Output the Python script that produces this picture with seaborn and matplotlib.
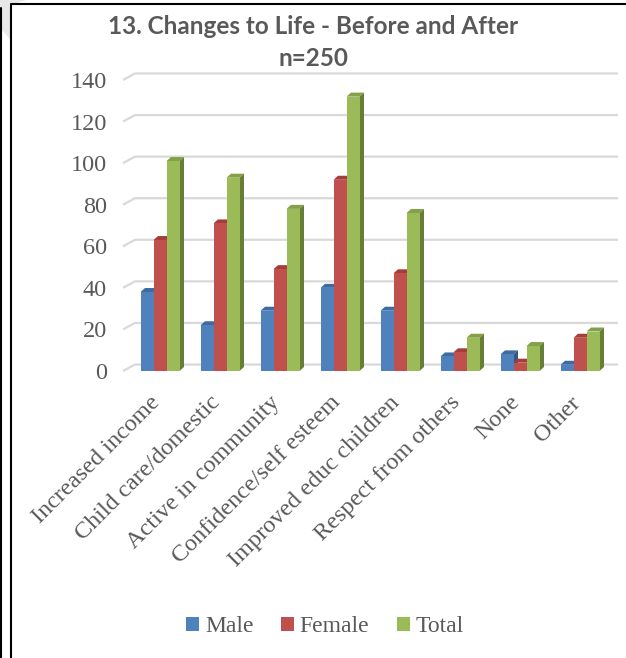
import numpy as np
import pandas as pd
import matplotlib
matplotlib.use("Agg")
import matplotlib.pyplot as plt
import seaborn as sns
from matplotlib.patches import Polygon, Patch
from matplotlib.lines import Line2D
from matplotlib import transforms

# ---------------- data ----------------
categories = ["Increased income", "Child care/domestic", "Active in community",
              "Confidence/self esteem", "Improved educ children",
              "Respect from others", "None", "Other"]
male = [38, 22, 29, 40, 29, 7, 8, 3]
female = [63, 71, 49, 92, 47, 9, 4, 16]
total = [101, 93, 78, 132, 76, 16, 12, 19]
series_names = ["Male", "Female", "Total"]
y_ticks = [0, 20, 40, 60, 80, 100, 120, 140]
title_text = "13. Changes to Life - Before and After"
subtitle_text = "n=250"

# ---------------- styles ----------------
front_colors = {"Male": "#4F81BD", "Female": "#C0504D", "Total": "#9BBB59"}
top_colors = {"Male": "#3F6BA3", "Female": "#A53E3B", "Total": "#84A048"}
side_colors = {"Male": "#34577F", "Female": "#86322F", "Total": "#667E36"}
text_gray = "#595959"
grid_gray = "#D9D9D9"

df = pd.DataFrame({
    "category": categories * 3,
    "series": [s for s in series_names for _ in categories],
    "value": male + female + total,
})

sns.set_theme(style="white")
plt.rcParams["font.family"] = ["Liberation Serif", "DejaVu Serif"]

W, H = 626, 658
fig = plt.figure(figsize=(W / 100, H / 100), dpi=100)
fig.patch.set_facecolor("white")

# faint grey corner shading (top-left of the page)
fig.add_artist(Polygon([(0, 1), (26 / W, 1), (11 / W, 1 - 5 / H), (11 / W, 1 - 40 / H), (0, 1 - 28 / H)],
                       closed=True, facecolor="#E8E8E8", edgecolor="none",
                       transform=fig.transFigure, zorder=0))

ax_bottom_px, ax_top_px = 371, 59.2
ax = fig.add_axes([130 / W, 1 - ax_bottom_px / H, 480 / W, (ax_bottom_px - ax_top_px) / H])
ax.set_facecolor("none")

sns.barplot(data=df, x="category", y="value", hue="series", order=categories,
            hue_order=series_names, palette=front_colors, width=0.65, gap=0,
            saturation=1, legend=False, ax=ax, linewidth=0, err_kws={"linewidth": 0})

ax.set_xlim(-0.5, len(categories) - 0.5)
ax.set_ylim(0, 150)

# pixel-to-data conversions for 3D depth effects
px_x = 1 / 60.0
px_y = 150 / (ax_bottom_px - ax_top_px)

# back-wall gridlines with a small left-wall diagonal
gdx, gdy = 12 * px_x, 6.5 * px_y
x0 = -0.5 - 7 * px_x
x_end = len(categories) - 0.5 + 8 * px_x
for v in y_ticks:
    ax.plot([x0, x0 + gdx, x_end], [v, v + gdy, v + gdy], color=grid_gray,
            lw=1.6, clip_on=False, zorder=0.5, solid_capstyle="butt")

# 3D faces on the bars
ddx, ddy = 4.5 * px_x, 4 * px_y
for i, (cont, name) in enumerate(zip(ax.containers, series_names)):
    z = 2 + i
    for rect in cont:
        x, w, h = rect.get_x(), rect.get_width(), rect.get_height()
        rect.set_zorder(z + 0.5)
        top = Polygon([(x, h), (x + w, h), (x + w + ddx, h + ddy), (x + ddx, h + ddy)],
                      closed=True, facecolor=top_colors[name], edgecolor="none",
                      zorder=z, clip_on=False)
        side = Polygon([(x + w, 0), (x + w + ddx, ddy), (x + w + ddx, h + ddy), (x + w, h)],
                       closed=True, facecolor=side_colors[name], edgecolor="none",
                       zorder=z, clip_on=False)
        ax.add_patch(top)
        ax.add_patch(side)

for s in ax.spines.values():
    s.set_visible(False)
ax.set_xlabel("")
ax.set_ylabel("")
ax.set_yticks(y_ticks)
ax.set_yticklabels([str(v) for v in y_ticks])
ax.tick_params(axis="y", length=0, pad=16.5, labelsize=17.5, labelcolor=text_gray)
ax.set_xticks(range(len(categories)))
ax.set_xticklabels(categories, rotation=45, ha="right", va="center",
                   rotation_mode="anchor")
ax.tick_params(axis="x", length=0, pad=20.5, labelsize=17.5, labelcolor=text_gray)
shift = transforms.ScaledTranslation(-3 / 100, 0, fig.dpi_scale_trans)
for lab in ax.get_xticklabels():
    lab.set_transform(lab.get_transform() + shift)
ax.grid(False)

# legend
handles = [Patch(facecolor=front_colors[s], edgecolor="none") for s in series_names]
fig.legend(handles, series_names, loc="center", bbox_to_anchor=(325 / W, 1 - 627 / H),
           ncol=3, frameon=False, fontsize=17, handlelength=0.55, handleheight=0.55,
           handletextpad=0.25, columnspacing=1.15, labelcolor=text_gray)

# title, fitted to reference width
title_font = ["Lato", "DejaVu Sans"]
t1 = fig.text(313 / W, 1 - 26 / H, title_text, ha="center", va="center",
              fontweight="bold", color=text_gray, family=title_font, fontsize=16)
fig.canvas.draw()
wpx = t1.get_window_extent().width
fs = 16 * 412 / wpx
t1.set_fontsize(fs)
fig.text(313 / W, 1 - 59 / H, subtitle_text, ha="center", va="center",
         fontweight="bold", color=text_gray, family=title_font, fontsize=fs)

# frame lines
fig.add_artist(Line2D([11 / W, 11 / W, 1.0], [0, 1 - 4 / H, 1 - 4 / H], color="black",
                      lw=1.5, transform=fig.transFigure))
fig.add_artist(Line2D([1.2 / W, 1.2 / W], [0, 1 - 8 / H], color="black",
                      lw=1.5, transform=fig.transFigure))

fig.savefig("out.png", dpi=100)
